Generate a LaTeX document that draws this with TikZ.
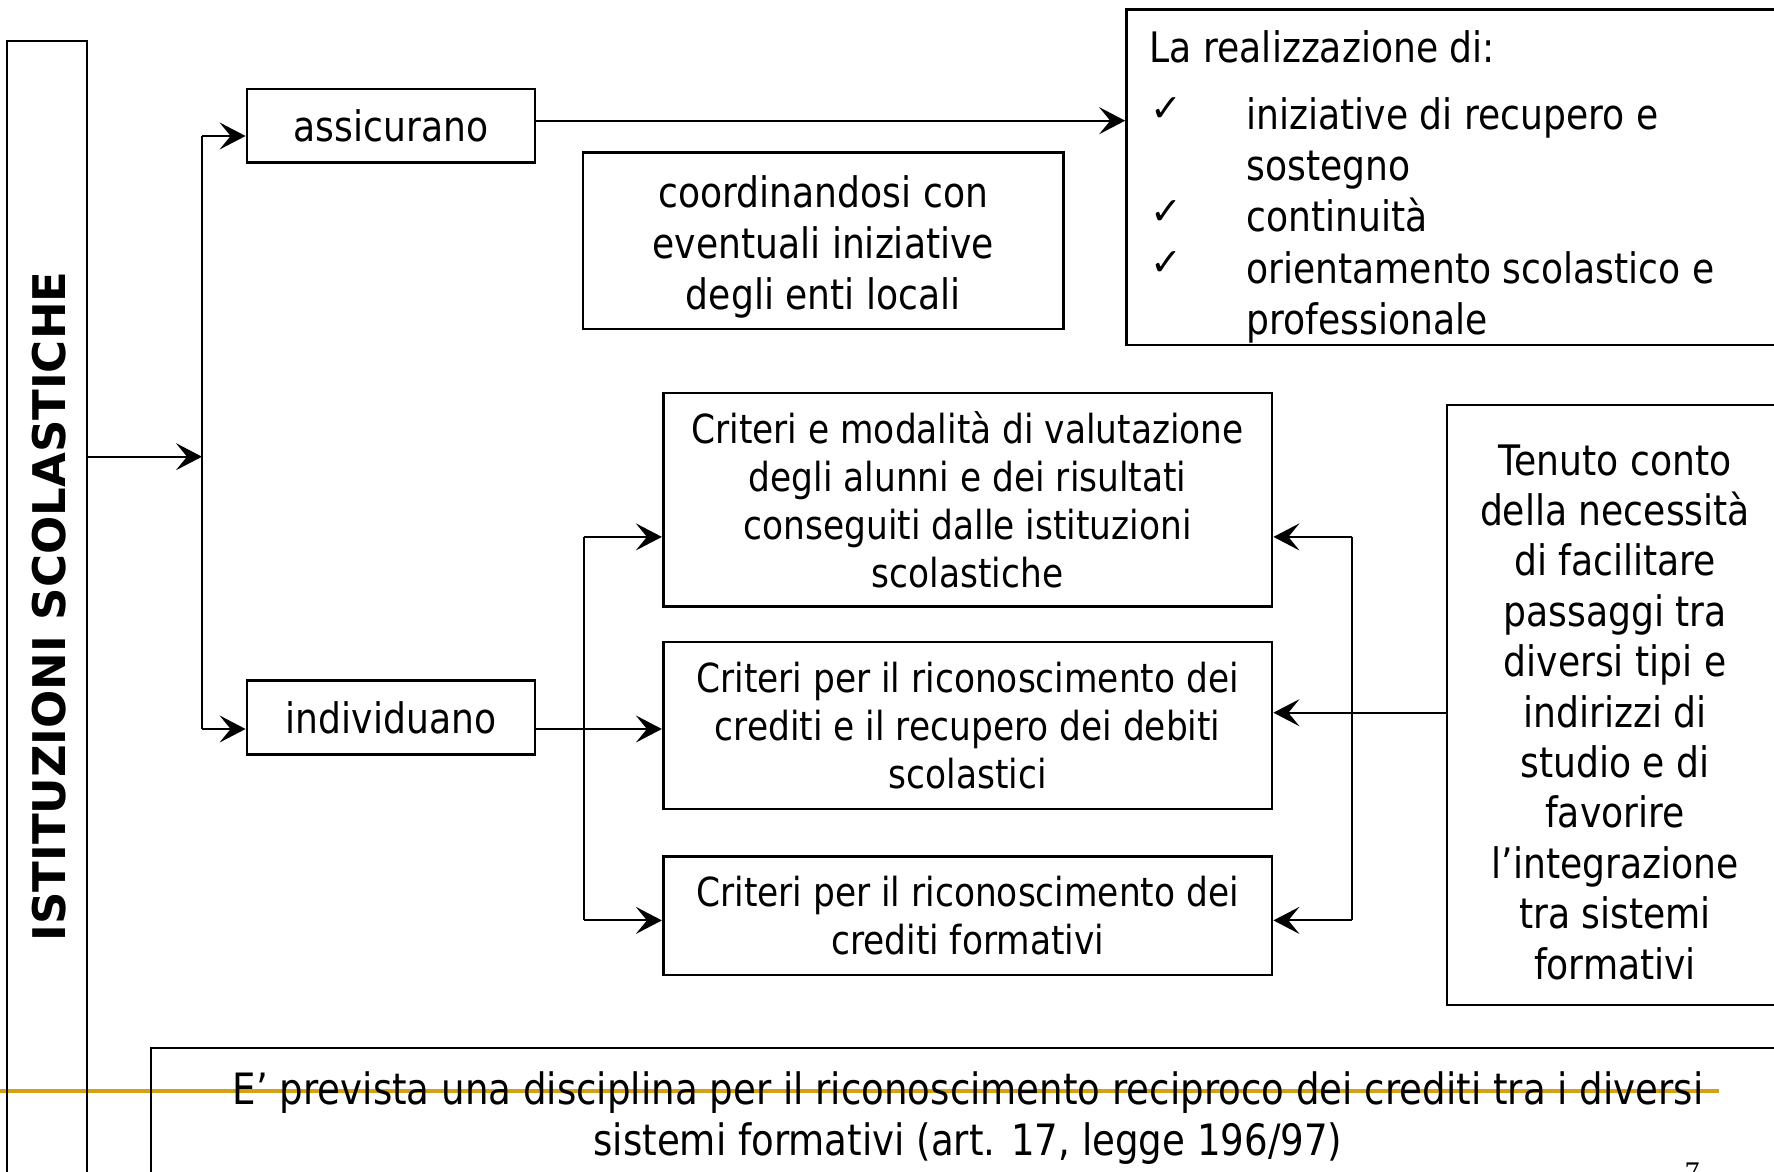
\documentclass[tikz,border=0pt]{standalone}
\usepackage{fontspec}
\setmainfont{DejaVu Sans}[FakeStretch=0.86]
\newfontfamily\titlefont{DejaVu Sans}
\newfontfamily\numfont{Liberation Serif}
\usetikzlibrary{arrows.meta}
\definecolor{gold}{RGB}{214,160,22}
\tikzset{
  box/.style={draw, line width=1.4pt, inner sep=0pt, align=center},
  conn/.style={line width=1pt},
  arr/.style={conn, -{Stealth[length=13pt,width=13.5pt,inset=5.5pt]}},
  big/.style={font=\fontsize{21pt}{25.6pt}\selectfont},
  mid/.style={font=\fontsize{20pt}{24pt}\selectfont},
  chk/.style={anchor=base west, inner sep=0pt, font=\titlefont\fontsize{19pt}{19pt}\selectfont},
  line/.style={anchor=base west, inner sep=0pt, big}
}
\begin{document}
\begin{tikzpicture}[x=0.5pt,y=-0.5pt]
\useasboundingbox (0,0) rectangle (1774,1172);
\clip (0,0) rectangle (1774,1172);
% gold rule
\draw[gold, line width=2pt] (0,1090.7) -- (1719,1090.7);
% boxes
\node[box, line width=1.1pt, minimum width=40.15pt, minimum height=604.65pt] (L) at (47.15,645.35) {};
\node[rotate=90, inner sep=0pt, font=\titlefont\bfseries\fontsize{22.5pt}{27pt}\selectfont] (title) at (49,606.5) {ISTITUZIONI SCOLASTICHE};
\node[box, big, minimum width=144pt, minimum height=36.85pt] (A) at (391,125.85) {assicurano};
\node[box, big, minimum width=144pt, minimum height=36.8pt] (I) at (391,717.5) {individuano};
\node[box, minimum width=240.25pt, minimum height=88.15pt] (C) at (823.25,240.85) {};
\node[align=center, inner sep=0pt, font=\fontsize{21pt}{25.5pt}\selectfont] (Ct) at (823.25,246.5) {coordinandosi con\\eventuali iniziative\\degli enti locali};
\node[box, minimum width=336.7pt, minimum height=167.85pt] (R) at (1463.3,177.15) {};
\node[box, mid, minimum width=304.35pt, minimum height=106.75pt] (V) at (967.65,499.75) {Criteri e modalità di valutazione\\degli alunni e dei risultati\\conseguiti dalle istituzioni\\scolastiche};
\node[box, mid, minimum width=304.35pt, minimum height=83.5pt] (Rc) at (967.65,725.5) {Criteri per il riconoscimento dei\\crediti e il recupero dei debiti\\scolastici};
\node[box, mid, minimum width=304.35pt, minimum height=59.3pt] (F) at (967.65,915.7) {Criteri per il riconoscimento dei\\crediti formativi};
\node[box, minimum width=168pt, minimum height=300pt] (T) at (1615,705) {};
\node[align=center, inner sep=0pt, font=\fontsize{21pt}{25.2pt}\selectfont] (Tt) at (1615,712) {Tenuto conto\\della necessità\\di facilitare\\passaggi tra\\diversi tipi e\\indirizzi di\\studio e di\\favorire\\l’integrazione\\tra sistemi\\formativi};
\node[box, line width=1.2pt, minimum width=824.5pt, minimum height=101pt] (B) at (975.5,1149) {};
\node[align=center, inner sep=0pt, font=\fontsize{21.6pt}{25.8pt}\selectfont] (Bt) at (968,1118) {E’ prevista una disciplina per il riconoscimento reciproco dei crediti tra i diversi\\sistemi formativi (art. 17, legge 196/97)};
\node[anchor=north, inner sep=0pt, font=\numfont\fontsize{15pt}{15pt}\selectfont] (pg) at (1692,1162) {7};
% text of R
\node[line] (r0) at (1149.4,63) {La realizzazione di:};
\node[chk] (c1) at (1150,122) {✓};
\node[line] (r1) at (1246,129.5) {iniziative di recupero e};
\node[line] (r2) at (1246,181) {sostegno};
\node[chk] (c2) at (1150,225) {✓};
\node[line] (r3) at (1246,232) {continuità};
\node[chk] (c3) at (1150,276) {✓};
\node[line] (r4) at (1246,283) {orientamento scolastico e};
\node[line] (r5) at (1246,334) {professionale};
% connector coordinates
\coordinate (j) at (202,456.7);
\coordinate (jA) at (202,136);
\coordinate (jI) at (202,729);
\coordinate (yA) at (0,120.7);
\coordinate (vl1) at (583.7,536.9);
\coordinate (vl2) at (583.7,920.4);
\coordinate (vr1) at (1351.5,536.9);
\coordinate (vr2) at (1351.5,920.4);
\coordinate (yT) at (0,712.7);
% connectors
\draw[arr] (L.east |- j) -- (j);
\draw[conn] (jA) -- (jI);
\draw[arr] (jA) -- (A.west |- jA);
\draw[arr] (jI) -- (I.west |- jI);
\draw[arr] (A.east |- yA) -- (R.west |- yA);
\draw[arr] (I.east |- jI) -- (Rc.west |- jI);
\draw[conn] (vl1) -- (vl2);
\draw[arr] (vl1) -- (V.west |- vl1);
\draw[arr] (vl2) -- (F.west |- vl2);
\draw[conn] (vr1) -- (vr2);
\draw[arr] (vr1) -- (V.east |- vr1);
\draw[arr] (vr2) -- (F.east |- vr2);
\draw[arr] (T.west |- yT) -- (Rc.east |- yT);
\end{tikzpicture}
\end{document}
